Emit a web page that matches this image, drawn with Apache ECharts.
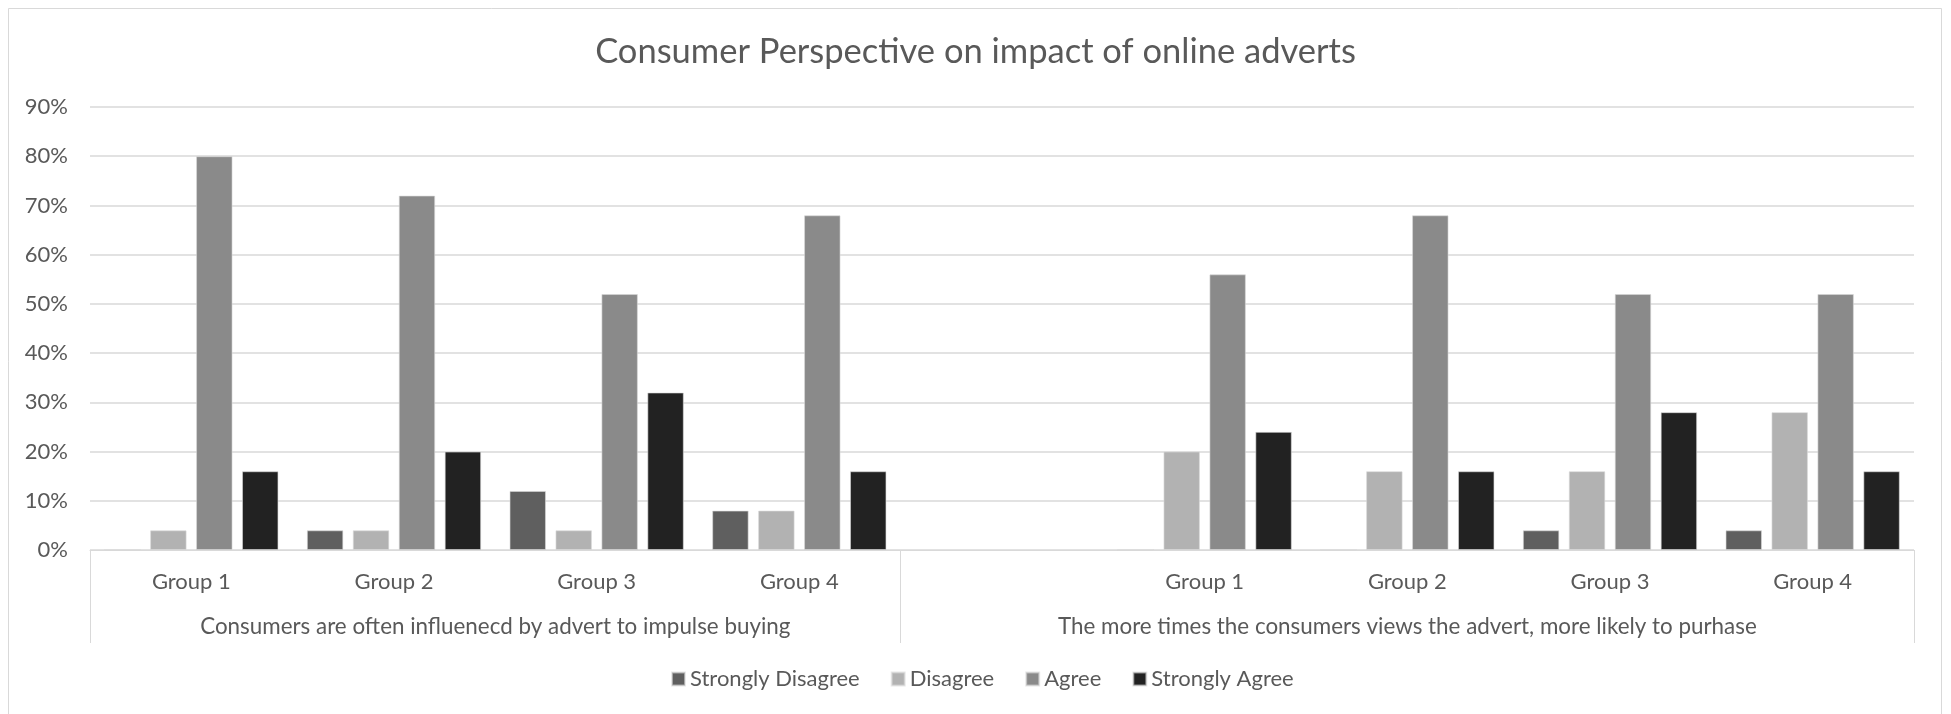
<!DOCTYPE html>
<html>
<head>
<meta charset="utf-8">
<title>Consumer Perspective on impact of online adverts</title>
<script src="https://cdn.jsdelivr.net/npm/echarts@6/dist/echarts.min.js"></script>
<style>
  html, body { margin: 0; padding: 0; background: #ffffff; }
  #chart { width: 1951px; height: 714px; }
</style>
</head>
<body>
<div id="chart"></div>
<script>
// Inner category labels (one blank slot opens the second section)
const categories = ['Group 1', 'Group 2', 'Group 3', 'Group 4', '', 'Group 1', 'Group 2', 'Group 3', 'Group 4'];
// Outer section labels and how many category slots each spans
const sections = [
  'Consumers are often influenecd by advert to impulse buying',
  'The more times the consumers views the advert, more likely to purhase'
];
const sectionSpans = [4, 5];
// Response shares, percent
const stronglyDisagree = [0, 4, 12, 8, null, 0, 0, 4, 4];
const disagree = [4, 4, 4, 8, null, 20, 16, 16, 28];
const agree = [80, 72, 52, 68, null, 56, 68, 52, 52];
const stronglyAgree = [16, 20, 32, 16, null, 24, 16, 28, 16];
// Value axis ticks, percent
const yTicks = [0, 10, 20, 30, 40, 50, 60, 70, 80, 90];

const FONT = 'Lato';
const TEXT = '#595959';
const GRID_LINE = '#d9d9d9';

// Section boundaries and centres in category-slot units
const bounds = [0];
sectionSpans.forEach(function (s) { bounds.push(bounds[bounds.length - 1] + s); });
const centres = sectionSpans.map(function (s, i) { return bounds[i] + s / 2; });

const chart = echarts.init(document.getElementById('chart'));

function barSeries(name, data, color) {
  return {
    name: name,
    type: 'bar',
    xAxisIndex: 0,
    data: data,
    barGap: '26%',
    barCategoryGap: '14%',
    itemStyle: { color: color, borderColor: 'rgba(217,217,217,0.6)', borderWidth: 1 },
    emphasis: { disabled: true }
  };
}

chart.setOption({
  animation: false,
  backgroundColor: '#ffffff',
  textStyle: { fontFamily: FONT, color: TEXT },
  title: {
    text: 'Consumer Perspective on impact of online adverts',
    left: 'center',
    top: 34,
    padding: 0,
    textStyle: { fontFamily: FONT, fontSize: 34.5, fontWeight: 'normal', color: TEXT }
  },
  graphic: [{
    type: 'rect',
    silent: true,
    shape: { x: 8.5, y: 8.5, width: 1933, height: 720 },
    style: { fill: 'none', stroke: GRID_LINE, lineWidth: 1 }
  }],
  legend: {
    data: ['Strongly Disagree', 'Disagree', 'Agree', 'Strongly Agree'],
    left: 671,
    top: 667,
    padding: 0,
    icon: 'rect',
    itemWidth: 13,
    itemHeight: 13,
    itemGap: 31,
    textStyle: { fontFamily: FONT, fontSize: 22, color: TEXT, lineHeight: 24 }
  },
  grid: { left: 90, right: 37, top: 107, bottom: 164 },
  xAxis: [{
    type: 'category',
    data: categories,
    position: 'bottom',
    axisLine: { lineStyle: { color: GRID_LINE, width: 1 } },
    axisTick: { show: false },
    axisLabel: { interval: 0, margin: 20, fontFamily: FONT, fontSize: 22, color: TEXT, lineHeight: 24 },
    splitLine: { show: false }
  }, {
    type: 'value',
    min: 0,
    max: bounds[bounds.length - 1],
    position: 'bottom',
    axisLine: { show: false },
    axisTick: { show: true, customValues: bounds, length: 93, lineStyle: { color: GRID_LINE, width: 1 } },
    axisLabel: {
      customValues: centres,
      margin: 65,
      fontFamily: FONT,
      fontSize: 22.4,
      color: TEXT,
      lineHeight: 24,
      formatter: function (v) {
        const i = centres.indexOf(v);
        return i >= 0 ? sections[i] : '';
      }
    },
    splitLine: { show: false }
  }],
  yAxis: {
    type: 'value',
    min: yTicks[0],
    max: yTicks[yTicks.length - 1],
    interval: yTicks[1] - yTicks[0],
    axisLine: { show: false },
    axisTick: { show: false },
    axisLabel: { margin: 22, fontFamily: FONT, fontSize: 22, color: TEXT, formatter: '{value}%' },
    splitLine: { lineStyle: { color: GRID_LINE, width: 1.5 } }
  },
  series: [
    barSeries('Strongly Disagree', stronglyDisagree, '#5f5f5f'),
    barSeries('Disagree', disagree, '#b2b2b2'),
    barSeries('Agree', agree, '#8a8a8a'),
    barSeries('Strongly Agree', stronglyAgree, '#222222')
  ]
});
</script>
</body>
</html>
